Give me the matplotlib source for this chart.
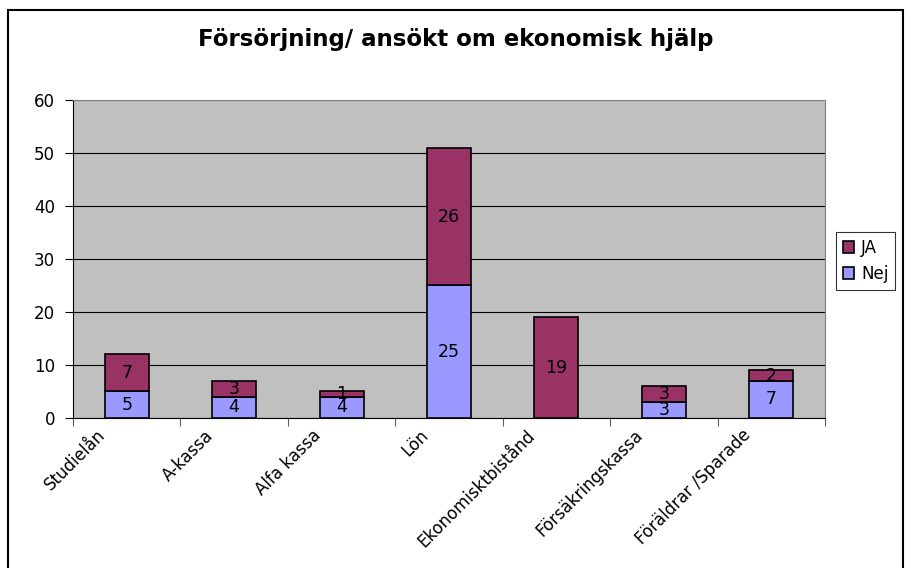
import matplotlib.pyplot as plt
from matplotlib.patches import Rectangle
import matplotlib.transforms as mtransforms
import numpy as np

plt.rcParams['font.family'] = ['DejaVu Sans']

categories = ['Studielån', 'A-kassa', 'Alfa kassa', 'Lön', 'Ekonomisktbistånd',
              'Försäkringskassa', 'Föräldrar /Sparade']
nej = [5, 4, 4, 25, 0, 3, 7]
ja = [7, 3, 1, 26, 19, 3, 2]

fig = plt.figure(figsize=(9.11, 5.68), dpi=100)
ax = fig.add_axes([0.0801, 0.2641, 0.8255, 0.5599])
ax.set_facecolor('#C0C0C0')

x = np.arange(len(categories))
w = 0.41
b1 = ax.bar(x, nej, w, color='#9999FF', edgecolor='black', linewidth=1.2, label='Nej', zorder=3)
b2 = ax.bar(x, ja, w, bottom=nej, color='#993366', edgecolor='black', linewidth=1.2, label='JA', zorder=3)

# data labels in the middle of each segment
for i in range(len(categories)):
    if nej[i] > 0:
        ax.text(x[i], nej[i] / 2, str(nej[i]), ha='center', va='center', fontsize=12.5, zorder=4)
    if ja[i] > 0:
        ax.text(x[i], nej[i] + ja[i] / 2, str(ja[i]), ha='center', va='center', fontsize=12.5, zorder=4)

ax.set_xlim(-0.5, len(categories) - 0.5)
ax.set_ylim(0, 60)
ax.set_yticks(range(0, 61, 10))
ax.yaxis.grid(True, color='black', linewidth=0.8, zorder=1)
ax.tick_params(axis='y', labelsize=12, direction='out', length=6, width=0.8, pad=7, colors='black')

# ticks at category boundaries, labels at centers
ax.set_xticks(np.arange(len(categories) + 1) - 0.5)
ax.set_xticklabels([])
ax.tick_params(axis='x', direction='out', length=6, width=0.8, color='#606060')
ax.set_xticks(x, minor=True)
ax.set_xticklabels(categories, minor=True, rotation=45, ha='right', rotation_mode='anchor', fontsize=12)
ax.tick_params(axis='x', which='minor', length=0, pad=6)
shift = mtransforms.ScaledTranslation(-30 / 100, 0, fig.dpi_scale_trans)
for lab in ax.get_xticklabels(minor=True):
    lab.set_transform(lab.get_transform() + shift)

for s in ['top', 'right']:
    ax.spines[s].set_color('#808080')
ax.spines['left'].set_color('black')
ax.spines['bottom'].set_color('black')

fig.text(0.5, 1 - 46 / 568, 'Försörjning/ ansökt om ekonomisk hjälp', ha='center', va='baseline',
         fontsize=16.5, fontweight='bold')

leg = fig.legend([b2, b1], ['JA', 'Nej'], loc='upper left', bbox_to_anchor=(836 / 911, 1 - 232 / 568),
                 frameon=True, fancybox=False, edgecolor='black', fontsize=12,
                 handlelength=0.7, handleheight=0.7, handletextpad=0.4, borderpad=0.4, labelspacing=0.5,
                 borderaxespad=0)
leg.get_frame().set_linewidth(0.8)

# chart border
fig.patches.append(Rectangle((8 / 911, -0.01), 895 / 911, 1 - 10 / 568 + 0.01, transform=fig.transFigure,
                             fill=False, edgecolor='black', linewidth=1.5))

fig.savefig('out.png', dpi=100)
